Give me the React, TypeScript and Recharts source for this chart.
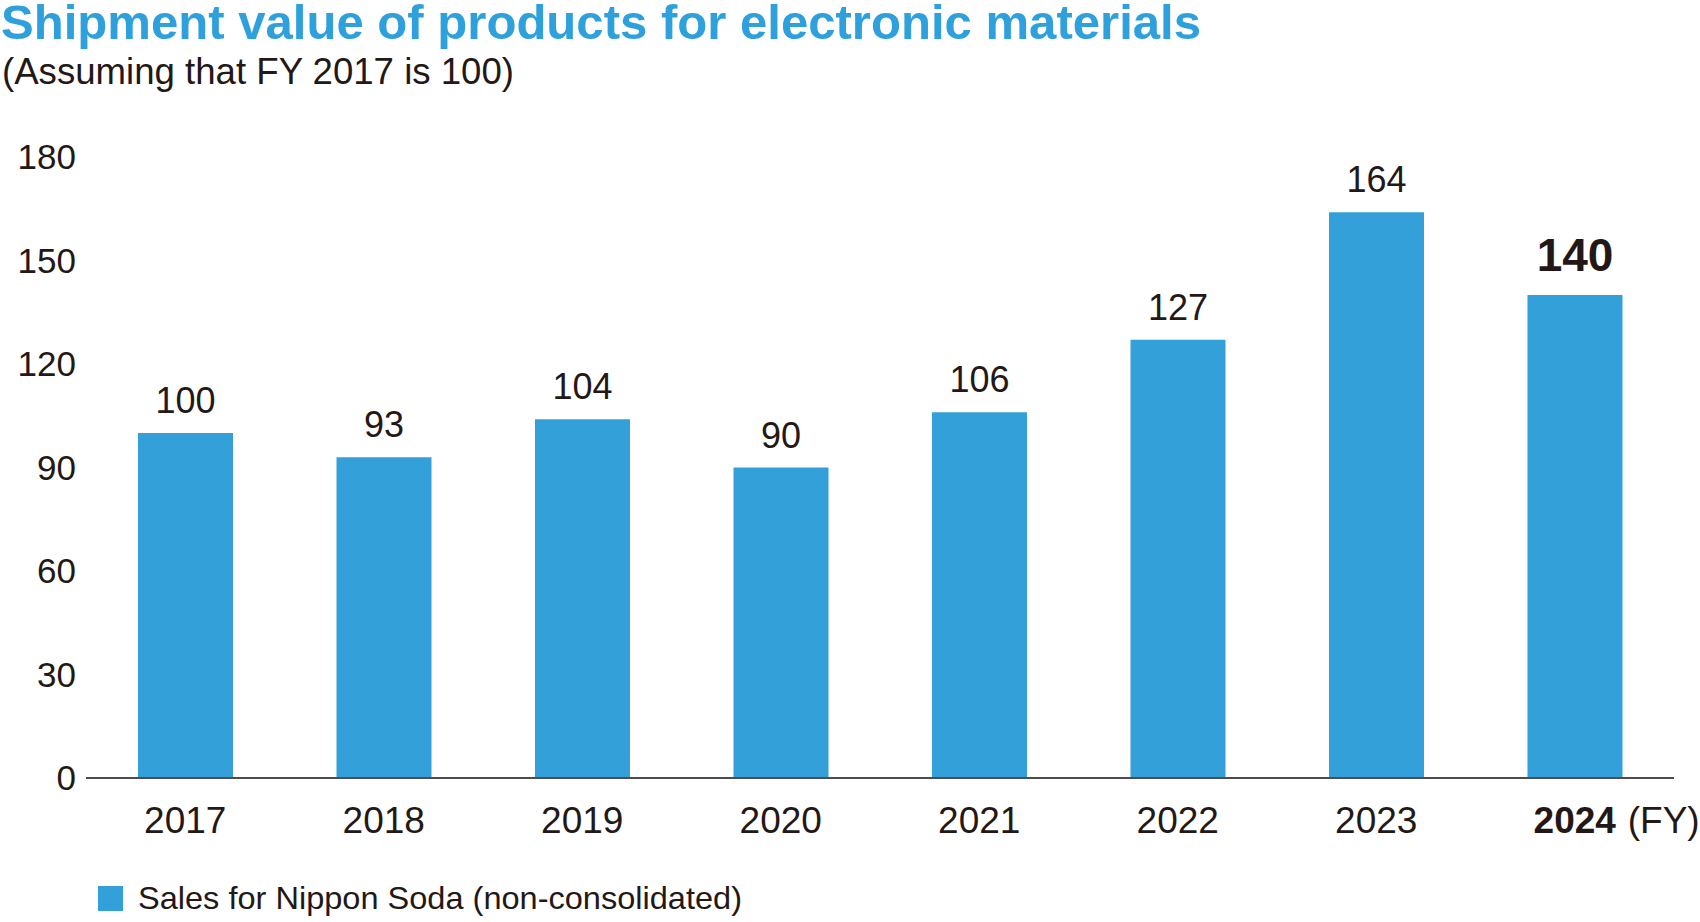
import React from "react";
import { BarChart, Bar, XAxis, YAxis, LabelList } from "recharts";

const categories = ["2017", "2018", "2019", "2020", "2021", "2022", "2023", "2024"];
const values = [100, 93, 104, 90, 106, 127, 164, 140];
const yTicks = [0, 30, 60, 90, 120, 150, 180];
const seriesName = "Sales for Nippon Soda (non-consolidated)";
const titleText = "Shipment value of products for electronic materials";
const subtitleText = "(Assuming that FY 2017 is 100)";
const unitText = "(FY)";

const data = categories.map((c, i) => ({ year: c, value: values[i] }));

const FONT = "'Liberation Sans', Arial, sans-serif";
const INK = "#231815";
const BLUE = "#33a0da";
const TITLE_BLUE = "#2ea0db";
const lastIndex = categories.length - 1;

const XTick = (props: any) => {
  const { x, y, payload, index } = props;
  const isLast = payload.value === categories[lastIndex] || index === lastIndex;
  return (
    <g>
      <text
        x={x}
        y={y + 55}
        textAnchor="middle"
        fontFamily={FONT}
        fontSize={37}
        fontWeight={isLast ? 700 : 400}
        fill={INK}
      >
        {payload.value}
      </text>
      {isLast && (
        <text x={x + 53} y={y + 55} textAnchor="start" fontFamily={FONT} fontSize={37} fill={INK}>
          {unitText}
        </text>
      )}
    </g>
  );
};

const ValueLabel = (props: any) => {
  const { x, y, width, value, index } = props;
  const isLast = index === lastIndex;
  return (
    <text
      x={Number(x) + Number(width) / 2}
      y={Number(y) - (isLast ? 24 : 20)}
      textAnchor="middle"
      fontFamily={FONT}
      fontSize={isLast ? 46 : 36}
      fontWeight={isLast ? 700 : 400}
      fill={INK}
    >
      {value}
    </text>
  );
};

export default function App() {
  return (
    <div style={{ position: "absolute", left: 0, top: 0, width: 1700, height: 922, background: "#fff" }}>
      <BarChart
        width={1700}
        height={922}
        data={data}
        margin={{ top: 157, right: 26, bottom: 114, left: 0 }}
      >
        <XAxis
          dataKey="year"
          height={30}
          axisLine={{ stroke: "#4d4d4d", strokeWidth: 2 }}
          tickLine={false}
          tickSize={0}
          tickMargin={0}
          tick={<XTick />}
          interval={0}
        />
        <YAxis
          domain={[0, 180]}
          ticks={yTicks}
          width={86}
          axisLine={false}
          tickLine={false}
          tickSize={0}
          tickMargin={10}
          tick={{ fontFamily: FONT, fontSize: 35, fill: INK }}
          interval={0}
        />
        <Bar dataKey="value" name={seriesName} fill={BLUE} barSize={95} isAnimationActive={false}>
          <LabelList dataKey="value" content={<ValueLabel />} />
        </Bar>
      </BarChart>
      <svg
        width={1700}
        height={922}
        style={{ position: "absolute", left: 0, top: 0, pointerEvents: "none" }}
      >
        <text
          x={1}
          y={39}
          fontFamily={FONT}
          fontSize={49}
          fontWeight={700}
          fill={TITLE_BLUE}
          textLength={1200}
          lengthAdjust="spacingAndGlyphs"
        >
          {titleText}
        </text>
        <text
          x={2}
          y={84}
          fontFamily={FONT}
          fontSize={36}
          fill={INK}
          textLength={512}
          lengthAdjust="spacingAndGlyphs"
        >
          {subtitleText}
        </text>
        <rect x={98} y={886} width={25} height={25} fill={BLUE} />
        <text
          x={138}
          y={909}
          fontFamily={FONT}
          fontSize={32}
          fill={INK}
          textLength={604}
          lengthAdjust="spacingAndGlyphs"
        >
          {seriesName}
        </text>
      </svg>
    </div>
  );
}
